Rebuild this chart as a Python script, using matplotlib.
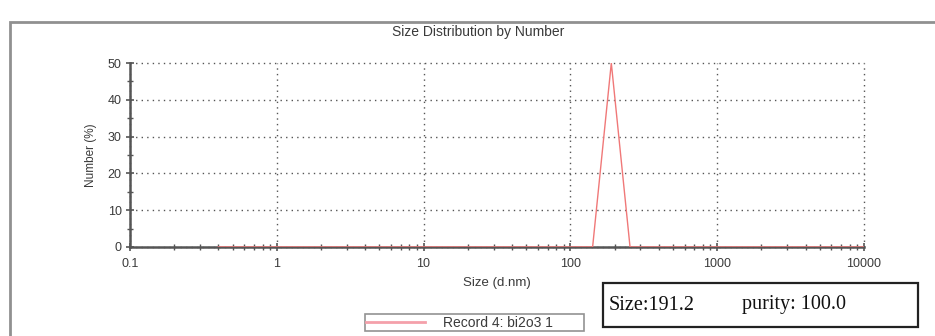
import matplotlib.pyplot as plt
from matplotlib.patches import Rectangle
from matplotlib.ticker import LogLocator, FixedLocator, NullFormatter

# size bins (d.nm) and number (%)
sizes = [0.4, 141.8, 190.1, 255.0, 10000]
number = [0.0, 0.0, 50.0, 0.0, 0.0]

x_ticks = [0.1, 1, 10, 100, 1000, 10000]
x_labels = ['0.1', '1', '10', '100', '1000', '10000']
y_ticks = [0, 10, 20, 30, 40, 50]

C_LINE = '#f07878'
C_TEXT = '#3a3a3a'
C_AXIS = '#555555'

plt.rcParams['font.family'] = ['Liberation Sans', 'DejaVu Sans']

fig = plt.figure(figsize=(9.35, 3.36), dpi=100)
fig.patch.set_facecolor('white')

# outer frame of the screenshot
fig.patches.append(Rectangle((0.0107, -0.05), 1.05, 0.985, transform=fig.transFigure,
                             fill=False, edgecolor='#909090', linewidth=2, clip_on=False))

ax = fig.add_axes([0.139, 0.265, 0.785, 0.5475])
ax.plot(sizes, number, color=C_LINE, lw=1.0, zorder=3, label='Record 4: bi2o3 1')
ax.set_xscale('log')
ax.set_xlim(0.1, 10000)
ax.set_ylim(0, 50)

ax.set_xticks(x_ticks)
ax.set_xticklabels(x_labels)
ax.xaxis.set_minor_locator(LogLocator(base=10, subs=range(2, 10)))
ax.xaxis.set_minor_formatter(NullFormatter())
ax.set_yticks(y_ticks)
ax.yaxis.set_minor_locator(FixedLocator([5, 15, 25, 35, 45]))

ax.tick_params(axis='both', which='major', direction='inout', length=6, width=1.2,
               color=C_AXIS, labelsize=9, labelcolor=C_TEXT)
ax.tick_params(axis='x', which='major', pad=5)
ax.tick_params(axis='y', which='major', pad=3)
ax.tick_params(axis='both', which='minor', direction='inout', length=4, width=1.0, color=C_AXIS)

for s in ['top', 'right']:
    ax.spines[s].set_visible(False)
for s in ['left', 'bottom']:
    ax.spines[s].set_color(C_AXIS)
    ax.spines[s].set_linewidth(1.8)

ax.grid(which='major', color='#555555', linestyle=(0, (1, 3)), linewidth=1.0)
for gl in ax.get_xgridlines() + ax.get_ygridlines():
    gl.set_clip_on(False)

ax.set_xlabel('Size (d.nm)', fontsize=9.5, color=C_TEXT, labelpad=5)
ax.set_ylabel('Number (%)', fontsize=8.5, color=C_TEXT, labelpad=8)

fig.text(478 / 935, 0.905, 'Size Distribution by Number', ha='center', va='center',
         fontsize=10, color=C_TEXT)

# legend box at the bottom
leg = fig.legend(loc='lower left', bbox_to_anchor=(365 / 935, 5 / 336, 219 / 935, 18 / 336),
                 mode='expand', fontsize=10, frameon=True, fancybox=False,
                 edgecolor='#777777', handlelength=4.2, handletextpad=1.3,
                 borderpad=0.1, borderaxespad=0, labelcolor=C_TEXT)
leg.get_frame().set_linewidth(1.2)
for h in leg.get_lines():
    h.set_linewidth(2)
    h.set_color('#f4a0aa')

# summary text box
fig.patches.append(Rectangle((603 / 935, 1 - 327 / 336), 315 / 935, 44 / 336,
                             transform=fig.transFigure, fill=False, edgecolor='#222222',
                             linewidth=1.6))
fig.text(609 / 935, 1 - 305 / 336, 'Size:191.2', ha='left', va='center',
         fontsize=14.5, family='Liberation Serif', color='#111111')
fig.text(742 / 935, 1 - 305 / 336, 'purity: 100.0', ha='left', va='center',
         fontsize=14.5, family='Liberation Serif', color='#111111')

fig.savefig('out.png', dpi=100, facecolor='white')
